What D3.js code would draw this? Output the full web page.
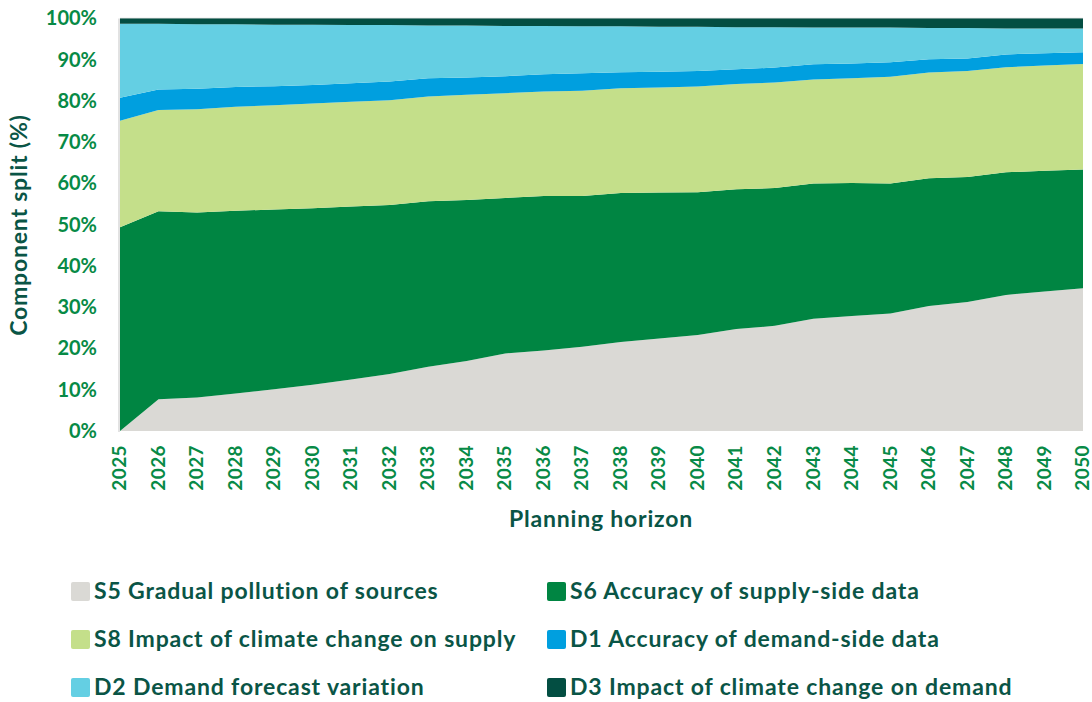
<!DOCTYPE html>
<html>
<head>
<meta charset="utf-8">
<script src="https://cdn.jsdelivr.net/npm/d3@7"></script>
<style>
  body { margin: 0; background: #fff; }
  svg { display: block; font-family: Lato, "Open Sans", sans-serif; font-weight: bold; }
</style>
</head>
<body>
<svg width="1092" height="702"></svg>
<script>
// data, % share of each component per year
var years = d3.range(2025, 2051);
var s5 = [0, 7.7, 8.1, 9.1, 10.1, 11.2, 12.5, 13.8, 15.6, 17.0, 18.8, 19.5, 20.4, 21.6, 22.4, 23.3, 24.7, 25.5, 27.2, 27.9, 28.5, 30.3, 31.3, 33.0, 33.8, 34.6];
var s6 = [49.4, 45.6, 44.9, 44.3, 43.6, 42.8, 41.9, 41.0, 40.1, 39.0, 37.7, 37.5, 36.6, 36.1, 35.4, 34.6, 33.9, 33.4, 32.8, 32.2, 31.5, 31.0, 30.3, 29.7, 29.3, 28.8];
var s8 = [25.8, 24.5, 25.0, 25.2, 25.3, 25.4, 25.4, 25.4, 25.4, 25.5, 25.4, 25.3, 25.5, 25.4, 25.5, 25.6, 25.5, 25.6, 25.2, 25.4, 25.9, 25.6, 25.7, 25.5, 25.5, 25.6];
var d1 = [5.6, 5.0, 5.0, 4.8, 4.6, 4.5, 4.5, 4.5, 4.4, 4.2, 4.1, 4.2, 4.2, 3.9, 3.8, 3.8, 3.6, 3.6, 3.7, 3.6, 3.5, 3.2, 3.0, 3.1, 3.0, 2.8];
var d2 = [17.9, 15.9, 15.6, 15.2, 14.9, 14.6, 14.1, 13.7, 12.8, 12.6, 12.2, 11.7, 11.4, 11.1, 10.9, 10.7, 10.2, 9.8, 8.9, 8.7, 8.4, 7.6, 7.4, 6.3, 6.0, 5.8];
var d3v = [1.3, 1.3, 1.4, 1.4, 1.5, 1.5, 1.6, 1.6, 1.7, 1.7, 1.8, 1.8, 1.9, 1.9, 2.0, 2.0, 2.1, 2.1, 2.2, 2.2, 2.2, 2.3, 2.3, 2.4, 2.4, 2.4];
var yTicks = [0, 10, 20, 30, 40, 50, 60, 70, 80, 90, 100];

var keys = ["s5", "s6", "s8", "d1", "d2", "d3"];
var labels = ["S5 Gradual pollution of sources", "S6 Accuracy of supply-side data",
  "S8 Impact of climate change on supply", "D1 Accuracy of demand-side data",
  "D2 Demand forecast variation", "D3 Impact of climate change on demand"];
var colors = ["#dad9d5", "#008542", "#c4df8a", "#009fdf", "#64cfe3", "#034e42"];

var rows = years.map(function(y, i) {
  return { year: y, s5: s5[i], s6: s6[i], s8: s8[i], d1: d1[i], d2: d2[i], d3: d3v[i] };
});

var svg = d3.select("svg");
// plot box (note: "top" is taken by window.top)
var plotL = 120, plotR = 1083, plotT = 18.5, plotB = 431;

var x = d3.scaleLinear().domain([2025, 2050]).range([plotL, plotR]);
var y = d3.scaleLinear().domain([0, 100]).range([plotB, plotT]);

var series = d3.stack().keys(keys)(rows);

// light frame line on top
svg.append("line").attr("x1", plotL).attr("x2", plotR).attr("y1", plotT).attr("y2", plotT)
  .attr("stroke", "#d9d9d9").attr("stroke-width", 1.5);

var area = d3.area()
  .x(function(d) { return x(d.data.year); })
  .y0(function(d) { return y(d[0]); })
  .y1(function(d) { return y(d[1]); });

svg.append("g").selectAll("path").data(series).enter().append("path")
  .attr("d", area)
  .attr("fill", function(d, i) { return colors[i]; });

svg.append("line").attr("x1", plotL - 1).attr("x2", plotL - 1).attr("y1", plotT).attr("y2", plotB + 1)
  .attr("stroke", "#d9d9d9").attr("stroke-width", 1.5);

// y axis
var yAxis = svg.append("g").attr("transform", "translate(" + plotL + ",0)")
  .call(d3.axisLeft(y).tickValues(yTicks).tickFormat(function(d) { return d + "%"; }).tickSize(0).tickPadding(23));
yAxis.select(".domain").remove();
yAxis.selectAll("text").attr("fill", "#078a46").style("font-size", "20px")
  .style("font-family", "Lato, sans-serif").style("font-weight", "bold");

// x axis, labels turned upright
var xAxis = svg.append("g").attr("transform", "translate(0," + plotB + ")")
  .call(d3.axisBottom(x).tickValues(years).tickFormat(d3.format("d")).tickSize(0));
xAxis.select(".domain").remove();
xAxis.selectAll("text")
  .attr("fill", "#078a46").style("font-size", "19px")
  .style("font-family", "Lato, sans-serif").style("font-weight", "bold")
  .style("letter-spacing", "0.4px")
  .attr("transform", "rotate(-90)")
  .attr("x", -14).attr("y", -1).attr("dy", "0.35em")
  .style("text-anchor", "end");

// axis titles
svg.append("text").attr("x", 601).attr("y", 527).attr("text-anchor", "middle")
  .attr("fill", "#0a5546").style("font-size", "23px").style("letter-spacing", "0.8px")
  .text("Planning horizon");
svg.append("text").attr("transform", "translate(27,225) rotate(-90)").attr("text-anchor", "middle")
  .attr("fill", "#0a5546").style("font-size", "23px").style("letter-spacing", "0.8px")
  .text("Component split (%)");

// legend, two columns three rows
var leg = svg.append("g").selectAll("g").data(labels).enter().append("g")
  .attr("transform", function(d, i) {
    var col = i % 2, row = Math.floor(i / 2);
    return "translate(" + (col ? 547 : 71) + "," + (582 + row * 48) + ")";
  });
leg.append("rect").attr("width", 19).attr("height", 19).attr("rx", 2)
  .attr("fill", function(d, i) { return colors[i]; });
leg.append("text").attr("x", 23).attr("y", 17).attr("fill", "#0a5546")
  .style("font-size", "23px").style("letter-spacing", "0.85px")
  .text(function(d) { return d; });
</script>
</body>
</html>
